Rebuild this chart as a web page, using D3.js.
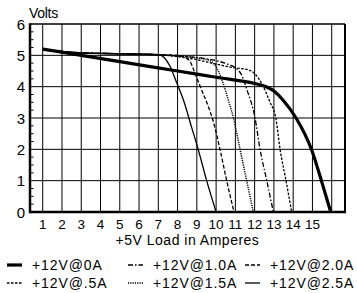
<!DOCTYPE html>
<html>
<head>
<meta charset="utf-8">
<script src="https://cdn.jsdelivr.net/npm/d3@7"></script>
<style>
html,body{margin:0;padding:0;background:#fff;}
svg{display:block;}
text{font-family:"Liberation Sans",Arial,Helvetica,sans-serif;fill:#000;}
</style>
</head>
<body>
<svg id="chart" width="357" height="293"></svg>
<script>
// ---- data ----
const xTicks = [1,2,3,4,5,6,7,8,9,10,11,12,13,14,15];
const xGrid = [1,2,3,4,5,6,7,8,9,10,11,12,13,14,15,16];
const yTicks = [0,1,2,3,4,5,6];
const seriesNames = ["+12V@0A","+12V@.5A","+12V@1.0A","+12V@1.5A","+12V@2.0A","+12V@2.5A"];

const load0A  = [[1,5.2],[3,5.0],[5,4.8],[8,4.5],[10,4.3],[12,4.1],[12.6,4.0],[13.0,3.86],[13.5,3.55],[14.15,3.0],[14.96,1.98],[15.48,0.97],[15.95,0]];
const load05A = [[1,5.2],[2,5.12],[3,5.08],[5,5.05],[7,5.02],[8,4.96],[9,4.86],[10,4.72],[11,4.6],[11.6,4.55],[12.0,4.42],[12.45,4.0],[12.8,3.5],[13.1,3.0],[13.32,2.0],[13.63,1.0],[13.92,0]];
const load10A = [[1,5.2],[2,5.12],[3,5.08],[5,5.05],[7,5.02],[8,4.98],[9,4.93],[10,4.83],[10.6,4.72],[11.0,4.6],[11.3,4.4],[11.6,3.9],[12.02,3.0],[12.28,2.0],[12.63,1.0],[12.97,0]];
const load15A = [[1,5.2],[2,5.12],[3,5.08],[5,5.05],[7,5.02],[8,4.98],[9,4.92],[9.6,4.85],[9.94,4.69],[10.37,4.1],[10.63,3.58],[10.9,3.0],[11.24,2.0],[11.59,1.0],[11.93,0]];
const load20A = [[1,5.2],[2,5.12],[3,5.08],[5,5.05],[7,5.02],[8,5.0],[8.3,4.95],[8.65,4.8],[8.9,4.43],[9.25,3.89],[9.6,3.36],[9.85,2.9],[10.2,2.0],[10.55,1.0],[10.93,0]];
const load25A = [[1,5.2],[2,5.12],[3,5.08],[5,5.05],[7,5.02],[7.3,4.93],[7.6,4.66],[7.95,4.13],[8.3,3.58],[8.73,2.7],[9.07,2.0],[9.51,1.0],[10,0]];

const seriesData = [load0A, load05A, load10A, load15A, load20A, load25A];
const seriesWidth = [3.2, 1.3, 1.3, 1.5, 1.3, 1.3];
const seriesDash = [null, "2.5,1.5", "5,2,1.5,2", "1.2,1.1", "4,2", null];

// ---- drawing ----
const svg = d3.select("#chart");
const L = 30, R = 345, T = 24, B = 212;
const x = d3.scaleLinear().domain([0.34, 16.69]).range([L, R]);
const y = d3.scaleLinear().domain([0, 6]).range([B, T]);

// grid
svg.append("g").selectAll("line").data(xGrid).join("line")
  .attr("x1", d => x(d)).attr("x2", d => x(d)).attr("y1", T).attr("y2", B)
  .attr("stroke", "#000").attr("stroke-width", 1);
svg.append("g").selectAll("line").data(yTicks.filter(d => d > 0 && d < 6)).join("line")
  .attr("x1", L).attr("x2", R).attr("y1", d => y(d)).attr("y2", d => y(d))
  .attr("stroke", "#000").attr("stroke-width", 1);

// minor ticks on y axis (inside)
const minor = d3.range(0, 6.001, 0.25).filter(v => Math.abs(v - Math.round(v)) > 0.01);
svg.append("g").selectAll("line").data(minor).join("line")
  .attr("x1", L).attr("x2", L + 3.5).attr("y1", d => y(d)).attr("y2", d => y(d))
  .attr("stroke", "#000").attr("stroke-width", 1);

// frame
svg.append("line").attr("x1", L).attr("x2", R).attr("y1", T).attr("y2", T).attr("stroke", "#000").attr("stroke-width", 1.5);
svg.append("line").attr("x1", R).attr("x2", R).attr("y1", T).attr("y2", B).attr("stroke", "#000").attr("stroke-width", 2);
svg.append("line").attr("x1", L).attr("x2", L).attr("y1", T - 0.75).attr("y2", B + 1.25).attr("stroke", "#000").attr("stroke-width", 2.5);
svg.append("line").attr("x1", L).attr("x2", R + 1).attr("y1", B).attr("y2", B).attr("stroke", "#000").attr("stroke-width", 2.5);

// curves
const line = d3.line().x(d => x(d[0])).y(d => y(d[1])).curve(d3.curveMonotoneX);
seriesData.forEach((s, i) => {
  svg.append("path").datum(s).attr("d", line)
    .attr("fill", "none").attr("stroke", "#000")
    .attr("stroke-width", seriesWidth[i])
    .attr("stroke-dasharray", seriesDash[i])
    .attr("stroke-linejoin", "round");
});

// axis labels
svg.append("g").selectAll("text").data(yTicks).join("text")
  .attr("x", L - 5).attr("y", d => y(d) + 5.5)
  .attr("text-anchor", "end").attr("font-size", 15).text(d => d);
svg.append("g").selectAll("text").data(xTicks).join("text")
  .attr("x", d => x(d)).attr("y", B + 17)
  .attr("text-anchor", "middle").attr("font-size", 13.5).text(d => d);

svg.append("text").attr("x", 29).attr("y", 18).attr("font-size", 14)
  .attr("letter-spacing", -0.3).text("Volts");
svg.append("text").attr("x", (L + R) / 2).attr("y", B + 33).attr("text-anchor", "middle")
  .attr("font-size", 14).attr("letter-spacing", 0.5).text("+5V Load in Amperes");

// legend
const legendOrder = [0, 2, 4, 1, 3, 5];
const colX = [7, 128, 245];
const rowY = [265, 283];
legendOrder.forEach((si, k) => {
  const col = k % 3, row = Math.floor(k / 3);
  const g = svg.append("g").attr("transform", `translate(${colX[col]},${rowY[row]})`);
  g.append("line").attr("x1", 0).attr("x2", 15).attr("y1", 0).attr("y2", 0)
    .attr("stroke", "#000").attr("stroke-width", seriesWidth[si])
    .attr("stroke-dasharray", seriesDash[si]);
  g.append("text").attr("x", 25).attr("y", 5).attr("font-size", 14)
    .attr("letter-spacing", 0.9).text(seriesNames[si]);
});
</script>
</body>
</html>
